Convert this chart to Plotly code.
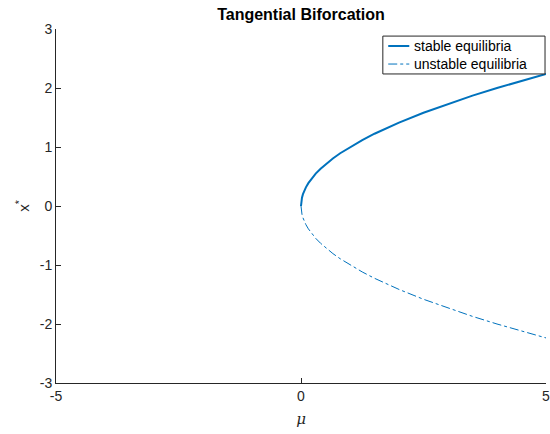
import plotly.graph_objects as go

# Equilibrium branches of the saddle-node (tangential) bifurcation
mu = [0, 0.002, 0.005, 0.01, 0.02, 0.04, 0.07, 0.1, 0.15, 0.2, 0.3, 0.4, 0.5, 0.65,
      0.8, 1.0, 1.25, 1.5, 1.75, 2.0, 2.5, 3.0, 3.5, 4.0, 4.5, 5.0]
x_stable = [0, 0.045, 0.07, 0.1, 0.14, 0.2, 0.265, 0.316, 0.387, 0.447, 0.548, 0.632,
            0.707, 0.806, 0.894, 1.0, 1.118, 1.225, 1.323, 1.414, 1.581, 1.732, 1.871,
            2.0, 2.121, 2.236]
x_unstable = [-v for v in x_stable]

series_names = ["stable equilibria", "unstable equilibria"]

x_ticks = [-5, 0, 5]
x_ticktext = ["-5", "0", "5"]
y_ticks = [-3, -2, -1, 0, 1, 2, 3]
y_ticktext = ["-3", "-2", "-1", "0", "1", "2", "3"]

blue = "#0072BD"
font = "Liberation Sans, Arial, Helvetica, sans-serif"
styles = [dict(color=blue, width=2), dict(color=blue, width=1, dash="dashdot")]

fig = go.Figure()
fig.add_trace(go.Scatter(x=mu, y=x_stable, mode="lines", name=series_names[0],
                         line=styles[0], showlegend=False))
fig.add_trace(go.Scatter(x=mu, y=x_unstable, mode="lines", name=series_names[1],
                         line=styles[1], showlegend=False))

# Compact boxed legend in the upper-right corner of the axes
box = dict(x0=0.667, x1=0.998, y0=0.873, y1=0.980)
fig.add_shape(type="rect", xref="paper", yref="paper", layer="above",
              fillcolor="white", line=dict(color="#262626", width=1), **box)
entry_y = [0.952, 0.901]
for name, style, yy in zip(series_names, styles, entry_y):
    fig.add_shape(type="line", xref="paper", yref="paper", layer="above",
                  x0=0.678, x1=0.721, y0=yy, y1=yy, line=style)
    fig.add_annotation(x=0.726, y=yy, xref="paper", yref="paper", text=name,
                       showarrow=False, xanchor="left", yanchor="middle",
                       font=dict(family=font, size=14, color="black"))

axis_common = dict(showgrid=False, zeroline=False, showline=True, linecolor="#262626",
                   linewidth=1, ticks="inside", ticklen=5, tickcolor="#262626",
                   tickfont=dict(family=font, size=14, color="#262626"), mirror=False,
                   ticklabeloverflow="allow", automargin=False)

fig.update_layout(
    width=550, height=434,
    margin=dict(l=56, r=4, t=29, b=51),
    paper_bgcolor="white", plot_bgcolor="white",
    showlegend=False,
    title=dict(text="<b>Tangential Biforcation</b>", x=0.5, xanchor="center",
               xref="paper", y=0.967, yanchor="middle",
               font=dict(family=font, size=16, color="black")),
    xaxis=dict(range=[-5, 5], tickvals=x_ticks, ticktext=x_ticktext,
               title=dict(text="<i>μ</i>", standoff=10,
                          font=dict(family="DejaVu Serif, serif", size=15, color="#262626")),
               **axis_common),
    yaxis=dict(range=[-3, 3], tickvals=y_ticks, ticktext=y_ticktext,
               title=dict(text="x<sup>*</sup>", standoff=6,
                          font=dict(family=font, size=15, color="#262626")),
               **axis_common),
)

fig.write_html("out.html")
